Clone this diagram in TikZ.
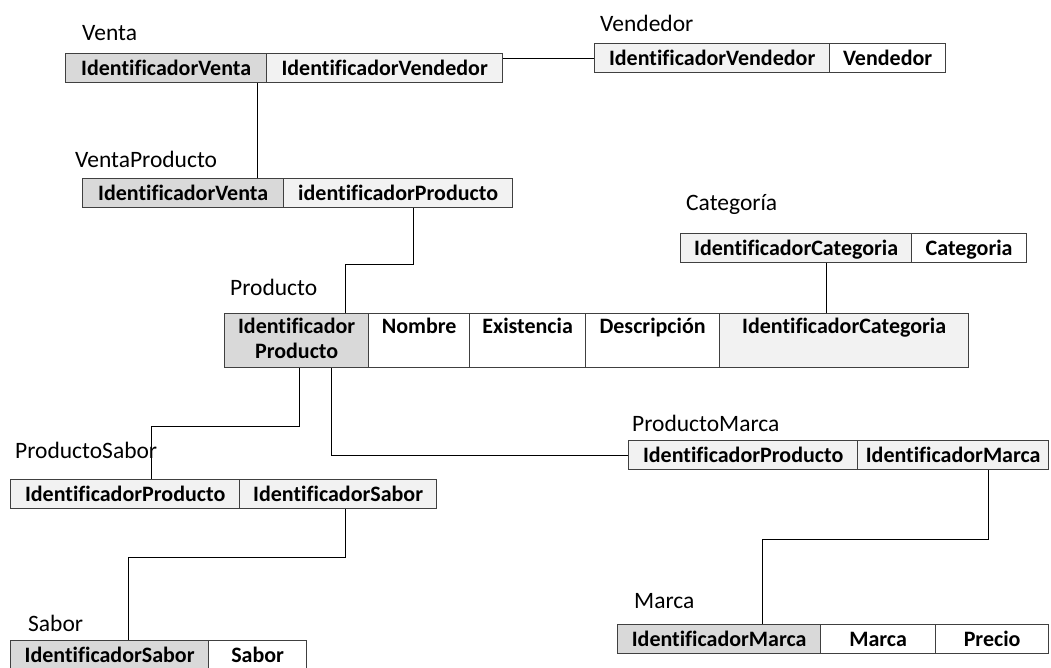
\documentclass[tikz,border=0pt]{standalone}
\usepackage{fontspec}
\setmainfont{Carlito}[Ligatures=NoCommon]
\newcommand{\cellstrut}{\rule[-4pt]{0pt}{22pt}}
\begin{document}
\begin{tikzpicture}[x=1pt,y=-1pt,
  cell/.style={draw=black!75, line width=1.3pt, anchor=north west, inner sep=0pt,
    minimum height=29pt, font=\fontsize{22}{25}\selectfont\bfseries, align=center,
    execute at begin node={\cellstrut}},
  pk/.style={fill=pkgray},
  fk/.style={fill=fkgray},
  nk/.style={fill=white},
  pcell/.style={cell, minimum height=54pt},
  lbl/.style={anchor=base west, inner sep=0pt, font=\fontsize{23.5}{28}\selectfont},
  conn/.style={draw=black, line width=1pt}]
\definecolor{pkgray}{HTML}{D9D9D9}
\definecolor{fkgray}{HTML}{F2F2F2}
\useasboundingbox[fill=white] (0,0) rectangle (1051,667);

% Venta
\node[lbl] (lventa) at (82,40) {Venta};
\node[cell,pk,minimum width=201pt] (v1) at (65,53) {IdentificadorVenta};
\node[cell,fk,minimum width=236pt] (v2) at (266,53) {IdentificadorVendedor};

% Vendedor
\node[lbl] (lvend) at (600,31) {Vendedor};
\node[cell,fk,minimum width=235pt] (vd1) at (594,43) {IdentificadorVendedor};
\node[cell,nk,minimum width=116pt] (vd2) at (829,43) {Vendedor};

% VentaProducto
\node[lbl] (lvp) at (75,167) {VentaProducto};
\node[cell,pk,minimum width=201pt] (vp1) at (82,178) {IdentificadorVenta};
\node[cell,fk,minimum width=229pt] (vp2) at (283,178) {identificadorProducto};

% Categoria
\node[lbl] (lcat) at (686,210) {Categoría};
\node[cell,fk,minimum width=231pt] (c1) at (680,233) {IdentificadorCategoria};
\node[cell,nk,minimum width=115pt] (c2) at (911,233) {Categoria};

% Producto
\node[lbl] (lprod) at (230,295) {Producto};
\node[pcell,pk,minimum width=144pt] (p1) at (224,313) {Identificador\strut\\Producto\strut};
\node[pcell,nk,minimum width=101pt] (p2) at (368,313) {Nombre\strut\\\strut};
\node[pcell,nk,minimum width=116pt] (p3) at (469,313) {Existencia\strut\\\strut};
\node[pcell,nk,minimum width=134pt] (p4) at (585,313) {Descripción\strut\\\strut};
\node[pcell,fk,minimum width=249pt] (p5) at (719,313) {IdentificadorCategoria\strut\\\strut};

% ProductoSabor
\node[lbl] (lps) at (15,458) {ProductoSabor};
\node[cell,fk,minimum width=229pt] (ps1) at (10,479) {IdentificadorProducto};
\node[cell,fk,minimum width=197pt] (ps2) at (239,479) {IdentificadorSabor};

% ProductoMarca
\node[lbl] (lpm) at (632,431) {ProductoMarca};
\node[cell,fk,minimum width=229pt] (pm1) at (628,440) {IdentificadorProducto};
\node[cell,fk,minimum width=191pt] (pm2) at (857,440) {IdentificadorMarca};

% Sabor
\node[lbl] (ls) at (28,631) {Sabor};
\node[cell,pk,minimum width=198pt] (s1) at (10,640) {IdentificadorSabor};
\node[cell,nk,minimum width=98pt] (s2) at (208,640) {Sabor};

% Marca
\node[lbl] (lm) at (634,608) {Marca};
\node[cell,pk,minimum width=203pt] (m1) at (617,624) {IdentificadorMarca};
\node[cell,nk,minimum width=115pt] (m2) at (820,624) {Marca};
\node[cell,nk,minimum width=113pt] (m3) at (935,624) {Precio};

% connectors
\draw[conn] (vd1.west) -- (vd1.west -| v2.east);
\draw[conn] ([xshift=-10pt]v1.south east) -- ([xshift=-10pt]v1.south east |- vp1.north);
\draw[conn] ([xshift=15.5pt]vp2.south) -- ++(0,56) -| ([xshift=49pt]p1.north);
\draw[conn] ([xshift=30.5pt]c1.south) -- ([xshift=30.5pt]c1.south |- p5.north);
\draw[conn] ([xshift=3pt]p1.south) -- ++(0,58) -| ([xshift=-88.5pt]ps1.north east);
\draw[conn] ([xshift=35pt]p1.south) |- (pm1.west);
\draw[conn] ([xshift=7.5pt]ps2.south) -- ++(0,48) -| ([xshift=19pt]s1.north);
\draw[conn] ([xshift=35.5pt]pm2.south) -- ++(0,69) -| ([xshift=43.5pt]m1.north);
\end{tikzpicture}
\end{document}
